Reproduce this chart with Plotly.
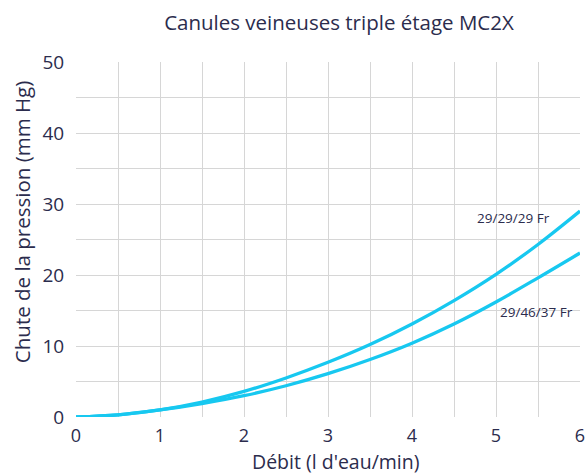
import plotly.graph_objects as go

debit = [0, 0.5, 1, 1.5, 2, 2.5, 3, 3.5, 4, 4.5, 5, 5.5, 6]
chute_29_29_29 = [0, 0.3, 1.0, 2.1, 3.6, 5.5, 7.7, 10.2, 13.1, 16.4, 20.1, 24.3, 29.0]
chute_29_46_37 = [0, 0.3, 1.0, 1.9, 3.0, 4.4, 6.1, 8.1, 10.4, 13.1, 16.2, 19.6, 23.1]
labels = ["29/29/29 Fr", "29/46/37 Fr"]

title = "Canules veineuses triple étage MC2X"
x_title = "Débit (l d'eau/min)"
y_title = "Chute de la pression (mm Hg)"

line_color = "#17c8f0"
text_color = "#2b2c4d"
grid_color = "#d6d6d6"
font_family = "'Open Sans', sans-serif"

fig = go.Figure()
for ys, name in zip([chute_29_29_29, chute_29_46_37], labels):
    fig.add_trace(go.Scatter(x=debit, y=ys, mode="lines", name=name,
                             line=dict(color=line_color, width=3.3, shape="spline", smoothing=1.0),
                             showlegend=False, hoverinfo="skip"))

fig.add_annotation(x=5.67, y=28.0, text=labels[0], showarrow=False,
                   font=dict(size=13.5, color=text_color, family=font_family), xanchor="right", yanchor="middle")
fig.add_annotation(x=5.94, y=14.8, text=labels[1], showarrow=False,
                   font=dict(size=13.5, color=text_color, family=font_family), xanchor="right", yanchor="middle")

# axis titles as annotations (placed like the reference, slightly off-centre)
fig.add_annotation(xref="paper", yref="paper", x=0.516, y=-0.1254, text=x_title, showarrow=False,
                   font=dict(size=19.5, color=text_color, family=font_family), xanchor="center", yanchor="middle")
fig.add_annotation(xref="paper", yref="paper", x=-0.107, y=0.549, text=y_title, showarrow=False, textangle=-90,
                   font=dict(size=20.5, color=text_color, family=font_family), xanchor="center", yanchor="middle")

fig.update_layout(
    width=588, height=475,
    margin=dict(l=76, r=8, t=62, b=58, autoexpand=False),
    paper_bgcolor="white", plot_bgcolor="white",
    font=dict(family=font_family, color=text_color),
    title=dict(text=title, x=0.5765, xanchor="center", y=0.952, yanchor="middle",
               font=dict(size=20.5, color=text_color, family=font_family)),
)
fig.update_xaxes(range=[0, 6], dtick=1, tick0=0, showgrid=True, gridcolor=grid_color, gridwidth=1.4,
                 minor=dict(dtick=0.5, showgrid=True, gridcolor=grid_color, gridwidth=1.4),
                 zeroline=False, showline=True, linecolor="white", linewidth=2, mirror=True,
                 layer="below traces", ticks="", ticklabelstandoff=1, automargin=False,
                 tickfont=dict(size=18, color=text_color))
fig.update_yaxes(range=[0, 50], dtick=10, tick0=0, showgrid=True, gridcolor=grid_color, gridwidth=1.4,
                 minor=dict(dtick=5, showgrid=True, gridcolor=grid_color, gridwidth=1.4),
                 zeroline=False, showline=True, linecolor="white", linewidth=2, mirror=True,
                 layer="below traces", ticks="", ticklabelstandoff=6, automargin=False,
                 tickfont=dict(size=19, color=text_color))

fig.write_html("out.html", config={"displayModeBar": False},
               post_script="document.body.style.margin='0';document.documentElement.style.overflow='hidden';")
